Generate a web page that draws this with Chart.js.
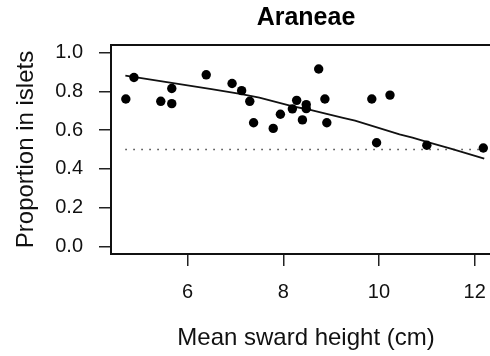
<!DOCTYPE html>
<html>
<head>
<meta charset="utf-8">
<title>Araneae</title>
<script src="https://cdn.jsdelivr.net/npm/chart.js@4/dist/chart.umd.min.js"></script>
<style>
    html, body { margin: 0; padding: 0; overflow: hidden; background: #fff; }
    #wrap { width: 520px; height: 356px; }
</style>
</head>
<body>
<div id="wrap"><canvas id="chart" width="520" height="356"></canvas></div>
<script>
// Data
const swardHeight = [4.71, 4.88, 5.44, 5.67, 5.67, 6.39, 6.93, 7.13, 7.30, 7.38, 7.79, 7.94, 8.19,
    8.28, 8.40, 8.48, 8.48, 8.74, 8.87, 8.91, 9.85, 9.95, 10.23, 11.00, 12.18];
const propIslets = [0.761, 0.872, 0.749, 0.815, 0.737, 0.886, 0.841, 0.804, 0.749, 0.638, 0.609, 0.682, 0.710,
    0.754, 0.653, 0.732, 0.711, 0.916, 0.761, 0.638, 0.761, 0.535, 0.781, 0.522, 0.508];

// Fitted curve
const fitX = [4.7, 5.5, 6.5, 7.1, 7.5, 8.2, 8.5, 9.25, 9.5, 10.43, 10.7, 11.0, 11.5, 12.2];
const fitY = [0.882, 0.851, 0.812, 0.787, 0.768, 0.723, 0.708, 0.664, 0.649, 0.578, 0.561, 0.540, 0.504, 0.453];

// Dotted reference at 0.5
const refX = [4.7, 12.25];
const refY = [0.5, 0.5];

// Axis ticks
const xTicks = [6, 8, 10, 12];
const yTicks = [0, 0.2, 0.4, 0.6, 0.8, 1.0];

const toPoints = (xs, ys) => xs.map((x, i) => ({ x: x, y: ys[i] }));

Chart.defaults.font.family = "'Liberation Sans', Arial, Helvetica, sans-serif";
Chart.defaults.color = '#111';

// Closed box around the plot area
const boxPlugin = {
    id: 'box',
    afterDraw(chart) {
        const { ctx, chartArea: a } = chart;
        ctx.save();
        ctx.strokeStyle = '#111';
        ctx.lineWidth = 2;
        ctx.strokeRect(a.left, a.top, a.right - a.left, a.bottom - a.top);
        ctx.restore();
    }
};

new Chart(document.getElementById('chart'), {
    type: 'scatter',
    data: {
        datasets: [
            {
                label: 'Sites',
                data: toPoints(swardHeight, propIslets),
                backgroundColor: '#000',
                borderWidth: 0,
                pointRadius: 4.7,
                order: 0
            },
            {
                label: 'Fit',
                data: toPoints(fitX, fitY),
                showLine: true,
                borderColor: '#111',
                borderWidth: 1.8,
                pointRadius: 0,
                tension: 0,
                order: 1
            },
            {
                label: 'Reference',
                data: toPoints(refX, refY),
                showLine: true,
                borderColor: '#333',
                borderWidth: 1.4,
                borderDash: [1.4, 6.6],
                pointRadius: 0,
                order: 2
            }
        ]
    },
    options: {
        responsive: false,
        animation: false,
        devicePixelRatio: 1,
        layout: { padding: { top: 0, right: 19, bottom: 0, left: 0 } },
        plugins: {
            legend: { display: false },
            tooltip: { enabled: false },
            title: {
                display: true,
                text: 'Araneae',
                fullSize: false,
                font: { size: 25, weight: 'bold' },
                color: '#000',
                padding: { top: 3, bottom: 12 }
            }
        },
        scales: {
            x: {
                type: 'linear',
                min: 4.40,
                max: 12.55,
                afterBuildTicks: scale => { scale.ticks = xTicks.map(v => ({ value: v })); },
                afterFit: scale => { scale.height = 102; },
                ticks: {
                    font: { size: 20 },
                    color: '#111',
                    padding: 14,
                    maxRotation: 0,
                    callback: v => String(v)
                },
                grid: { drawOnChartArea: false, drawTicks: true, tickLength: 12, tickColor: '#222', lineWidth: 1.5 },
                border: { display: true, color: '#111', width: 2 },
                title: {
                    display: true,
                    text: 'Mean sward height (cm)',
                    font: { size: 24 },
                    color: '#111',
                    padding: { top: 0, bottom: 3 }
                }
            },
            y: {
                type: 'linear',
                min: -0.04,
                max: 1.04,
                afterBuildTicks: scale => { scale.ticks = yTicks.map(v => ({ value: v })); },
                afterFit: scale => { scale.width = 111; },
                ticks: {
                    font: { size: 20 },
                    color: '#111',
                    padding: 16,
                    callback: v => Number(v).toFixed(1)
                },
                grid: { drawOnChartArea: false, drawTicks: true, tickLength: 12, tickColor: '#222', lineWidth: 1.5 },
                border: { display: true, color: '#111', width: 2 },
                title: {
                    display: true,
                    text: 'Proportion in islets',
                    font: { size: 24 },
                    color: '#111',
                    padding: { top: 12, bottom: 0 }
                }
            }
        }
    },
    plugins: [boxPlugin]
});
</script>
</body>
</html>
